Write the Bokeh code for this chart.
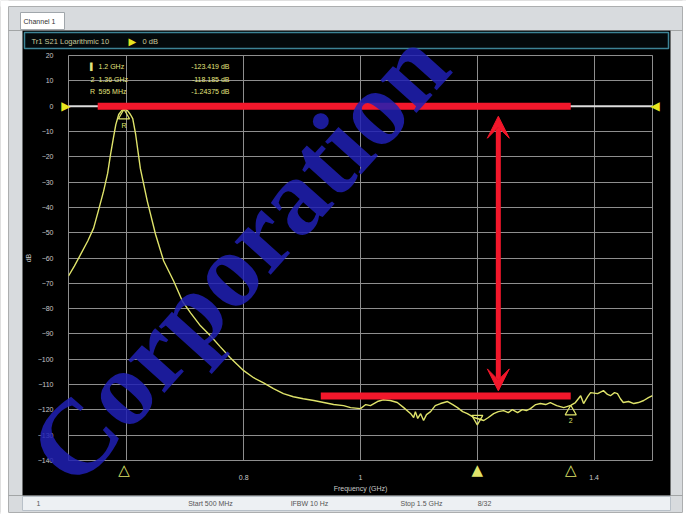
from bokeh.plotting import figure
from bokeh.models import (Range1d, FixedTicker, Label, Arrow, VeeHead, ColumnDataSource)
from bokeh.core.properties import value
from bokeh.embed import file_html
from bokeh.resources import INLINE

# ---------------- data ----------------
freq_ghz = [0.500, 0.510, 0.521, 0.533, 0.543, 0.551, 0.560, 0.567, 0.572, 0.577,
            0.581, 0.586, 0.591, 0.595, 0.601, 0.606, 0.610, 0.615, 0.623, 0.635,
            0.649, 0.663, 0.680, 0.695, 0.709, 0.726, 0.743, 0.760, 0.777, 0.800,
            0.817, 0.834, 0.851, 0.868, 0.885, 0.902, 0.920, 0.937, 0.954, 0.971,
            0.983, 1.000, 1.009, 1.017, 1.029, 1.039, 1.051, 1.063, 1.074, 1.086,
            1.091, 1.094, 1.098, 1.103, 1.108, 1.113, 1.120, 1.128, 1.137, 1.149,
            1.158, 1.166, 1.175, 1.183, 1.194, 1.200, 1.211, 1.219, 1.228, 1.236,
            1.245, 1.253, 1.260, 1.269, 1.277, 1.284, 1.291, 1.300, 1.308, 1.317,
            1.325, 1.336, 1.348, 1.360, 1.368, 1.377, 1.382, 1.389, 1.394, 1.406,
            1.416, 1.423, 1.428, 1.435, 1.440, 1.445, 1.450, 1.459, 1.468, 1.476,
            1.485, 1.493, 1.500]
s21_db = [-67.1, -63.2, -58.5, -53.3, -48.2, -41.5, -33.7, -26.6, -19.1, -12.4,
          -7.3, -3.3, -1.8, -1.2, -1.8, -3.3, -4.9, -11.2, -24.6, -37.6,
          -50.6, -61.2, -69.1, -77.0, -81.7, -86.8, -90.7, -95.1, -99.4, -104.5,
          -107.3, -109.3, -111.6, -113.6, -114.8, -115.6, -116.3, -117.1, -117.9, -118.3,
          -119.1, -119.5, -117.9, -118.3, -116.7, -116.0, -116.3, -117.1, -119.1, -121.5,
          -123.0, -120.7, -123.4, -121.5, -124.2, -121.9, -120.7, -118.3, -117.5, -116.7,
          -117.9, -119.1, -120.7, -121.5, -123.0, -123.4, -124.2, -123.0, -121.5, -120.7,
          -120.3, -121.1, -119.9, -121.1, -119.9, -120.3, -119.5, -117.9, -117.5, -117.9,
          -117.1, -118.3, -119.1, -118.2, -117.1, -114.4, -117.5, -114.8, -113.2, -113.6,
          -112.4, -113.9, -114.4, -113.2, -113.6, -115.6, -117.1, -116.7, -117.5, -117.1,
          -116.3, -115.2, -114.4]

marker_ids = ["1", "2", "R"]
marker_freq = [1.2, 1.36, 0.595]
marker_db = [-123.419, -118.185, -1.24375]
marker_freq_text = ["1.2 GHz", "1.36 GHz", "595 MHz"]
marker_db_text = ["-123.419 dB", "-118.185 dB", "-1.24375 dB"]
marker_shape = ["inverted_triangle", "triangle", "triangle"]
marker_shift_db = [0.0, -2.5, -2.5]
marker_axis_glyph = ["\u25b2", "\u25b3", "\u25b3"]

y_ticks = list(range(20, -150, -10))
x_ticks = [0.5, 0.6, 0.8, 1.0, 1.2, 1.4, 1.5]
x_tick_text = ["", "", "0.8", "1", "", "1.4", ""]
X_MIN, X_MAX = 0.5, 1.5
Y_MIN, Y_MAX = -140, 20

ref_level_db = 0
ann_top_f = [0.550, 1.360]
ann_top_db = [0, 0]
ann_bot_f = [0.932, 1.360]
ann_bot_db = [-114.5, -114.5]
arrow_f = 1.236
arrow_db = [-4.0, -112.5]

title_text = "Tr1 S21 Logarithmic 10"
title_ref_text = "0 dB"
tab_text = "Channel 1"
status_texts = ["1", "Start 500 MHz", "IFBW 10 Hz", "Stop 1.5 GHz", "8/32"]
watermark_text = "Corporation"

# ---------------- styling / layout ----------------
RED = "#f3172b"
TRACE = "#dfe36a"
YEL = "#e8e620"
GRID = "#8e8e8e"
TXT = "#c9c9c9"
FONT = "Liberation Sans"
W, H = 686, 514
FL, FR, FT, FB = 68, 652, 55, 460   # plot frame in page pixels


def dx(px):
    return X_MIN + (px - FL) / (FR - FL) * (X_MAX - X_MIN)


def dy(py):
    return Y_MAX - (py - FT) / (FB - FT) * (Y_MAX - Y_MIN)


p = figure(width=W, height=H, output_backend="svg", toolbar_location=None,
           title=None, x_range=Range1d(X_MIN, X_MAX), y_range=Range1d(Y_MIN, Y_MAX),
           min_border_left=FL, min_border_right=W - FR, min_border_top=FT,
           min_border_bottom=H - FB, background_fill_color="black",
           border_fill_color="black")

# axes
p.xaxis.ticker = FixedTicker(ticks=x_ticks)
p.yaxis.ticker = FixedTicker(ticks=y_ticks)
p.xaxis.major_label_overrides = {t: s for t, s in zip(x_ticks, x_tick_text)}
p.axis.axis_line_color = None
p.axis.major_tick_line_color = None
p.axis.minor_tick_line_color = None
p.axis.major_label_text_color = TXT
p.axis.major_label_text_font = FONT
p.axis.major_label_text_font_size = "7px"
p.yaxis.major_label_standoff = 9
p.xaxis.major_label_standoff = 8
p.xaxis.axis_label = "Frequency (GHz)"
p.yaxis.axis_label = "dB"
p.axis.axis_label_text_font = FONT
p.axis.axis_label_text_font_size = "7px"
p.axis.axis_label_text_font_style = "normal"
p.axis.axis_label_text_color = TXT
p.xaxis.axis_label_standoff = 2
p.yaxis.axis_label_standoff = 3
p.grid.grid_line_color = GRID
p.grid.grid_line_width = 1
p.outline_line_color = GRID

# reference line
p.line([X_MIN, X_MAX], [ref_level_db, ref_level_db], line_color="#dcdcdc", line_width=2)

# trace
p.line(freq_ghz, s21_db, line_color=TRACE, line_width=1.4)

# markers on trace
msrc = ColumnDataSource(dict(f=marker_freq,
                             db=[d + s for d, s in zip(marker_db, marker_shift_db)],
                             shape=marker_shape, ids=marker_ids,
                             axis_glyph=marker_axis_glyph,
                             ybot=[Y_MIN] * len(marker_freq)))
p.scatter("f", "db", marker="shape", source=msrc, size=11, fill_color=None,
          line_color=TRACE, line_width=1.3)
p.text(x=[marker_freq[1], marker_freq[2]], y=[marker_db[1], marker_db[2]],
       text=[marker_ids[1], marker_ids[2]], text_font=value(FONT), text_font_size="7px",
       text_color=TRACE, text_align="center", text_baseline="top", y_offset=13)

# marker table
for i in range(len(marker_ids)):
    yy = 66 + 12.5 * i
    p.add_layout(Label(x=92, y=yy, x_units="canvas", y_units="canvas",
                       text="\u258c" if i == 0 else marker_ids[i], text_font=FONT,
                       text_font_size="7px", text_color="#e3e37e", text_align="center",
                       text_baseline="middle"))
    p.add_layout(Label(x=98, y=yy, x_units="canvas", y_units="canvas",
                       text=marker_freq_text[i], text_font=FONT, text_font_size="7px",
                       text_color="#e3e37e", text_baseline="middle"))
    p.add_layout(Label(x=229, y=yy, x_units="canvas", y_units="canvas",
                       text=marker_db_text[i], text_font=FONT, text_font_size="7px",
                       text_color="#e3e37e", text_baseline="middle", text_align="right"))

# red annotations
p.line(ann_top_f, ann_top_db, line_color=RED, line_width=7)
p.line(ann_bot_f, ann_bot_db, line_color=RED, line_width=7)
p.add_layout(Arrow(x_start=arrow_f, y_start=arrow_db[1], x_end=arrow_f, y_end=arrow_db[0],
                   line_color=RED, line_width=5,
                   start=VeeHead(size=22, fill_color=RED, line_color=RED),
                   end=VeeHead(size=22, fill_color=RED, line_color=RED)))

# ---------- things outside the frame (overlay level is not clipped) ----------
OV = dict(level="overlay")
# window chrome: white margin and grey frame
p.quad(left=[dx(0), dx(0), dx(682), dx(0)], right=[dx(W), dx(8), dx(W), dx(W)],
       top=[dy(0), dy(0), dy(0), dy(512)], bottom=[dy(6), dy(H), dy(H), dy(H)],
       fill_color="white", line_color=None, **OV)
p.quad(left=[dx(8), dx(8), dx(670), dx(8)], right=[dx(682), dx(22), dx(682), dx(682)],
       top=[dy(6), dy(30), dy(30), dy(495)], bottom=[dy(30), dy(495), dy(495), dy(512)],
       fill_color="#d8dbde", line_color=None, **OV)
# tab
p.quad(left=[dx(20)], right=[dx(64)], top=[dy(12)], bottom=[dy(29)],
       fill_color="white", line_color="#a0a6ab", line_width=1, **OV)
p.text(x=[dx(23)], y=[dy(21)], text=[tab_text], text_font=value(FONT),
       text_font_size="7px", text_color="#333333", text_baseline="middle", **OV)
# title bar
p.quad(left=[dx(24)], right=[dx(668)], top=[dy(32)], bottom=[dy(48)],
       fill_color="#04090b", line_color="#3d8496", line_width=1.5, **OV)
p.text(x=[dx(31)], y=[dy(41)], text=[title_text], text_font=value(FONT),
       text_font_size="7.5px", text_color="#c8c99c", text_baseline="middle", **OV)
p.text(x=[dx(128)], y=[dy(41)], text=["\u25b6"], text_font=value("DejaVu Sans"),
       text_font_size="10px", text_color=YEL, text_baseline="middle", **OV)
p.text(x=[dx(142)], y=[dy(41)], text=[title_ref_text], text_font=value(FONT),
       text_font_size="7.5px", text_color="#c8c99c", text_baseline="middle", **OV)
# status bar
p.quad(left=[dx(22)], right=[dx(670)], top=[dy(496)], bottom=[dy(510)],
       fill_color="#edf0f3", line_color="#b8c0c8", line_width=1, **OV)
p.text(x=[dx(38), dx(210), dx(309), dx(421), dx(484)], y=[dy(503)] * 5,
       text=status_texts, text_font=value(FONT), text_font_size="7px",
       text_color="#555555", text_align="center", text_baseline="middle", **OV)
# reference-level end markers
p.text(x=[X_MIN, X_MAX], y=[ref_level_db, ref_level_db], text=["\u25b6", "\u25c0"],
       text_align=["right", "left"], text_baseline="middle",
       text_font=value("DejaVu Sans"), text_font_size="12px", text_color=YEL,
       x_offset=[2, -2], **OV)
# marker positions on the frequency axis
p.text(x="f", y="ybot", text="axis_glyph", source=msrc, text_font=value("DejaVu Sans"),
       text_font_size="15px", text_color=TRACE, text_align="center",
       text_baseline="top", y_offset=0, **OV)

# watermark (kept inside the page)
p.text(x=[dx(238)], y=[dy(257)], text=[watermark_text], angle=48, angle_units="deg",
       text_font=value("Liberation Serif"), text_font_style="bold",
       text_font_size="106px", text_color="#2020b4", text_alpha=0.85,
       text_align="center", text_baseline="middle", **OV)

open("out.html", "w").write(file_html(p, INLINE))
